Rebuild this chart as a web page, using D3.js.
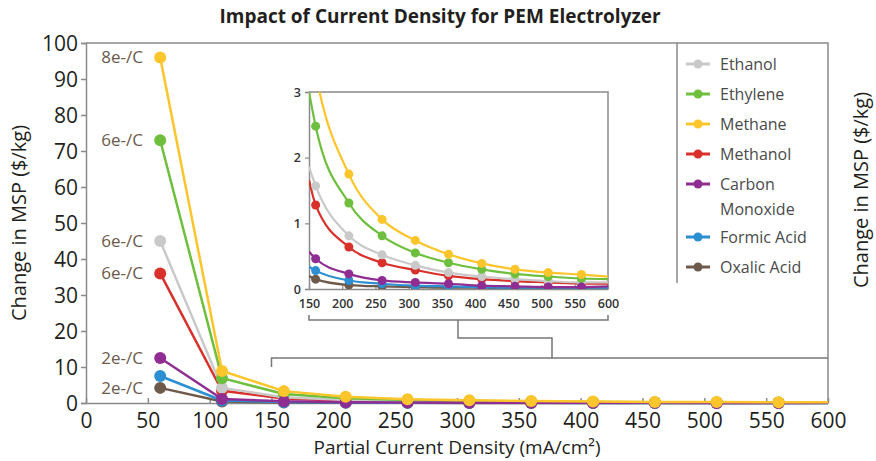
<!DOCTYPE html>
<html>
<head>
<meta charset="utf-8">
<script src="https://cdn.jsdelivr.net/npm/d3@7"></script>
<style>
  body { margin: 0; background: #fff; }
  svg { display: block; }
  text { font-family: "Open Sans", sans-serif; }
</style>
</head>
<body>
<svg id="chart"></svg>
<script>
const svgWidth = 876;
const svgHeight = 461;

// Partial current density (mA/cm2) where markers sit
const density = [60, 110, 160, 210, 260, 310, 360, 410, 460, 510, 560];

const seriesNames = ["Ethanol", "Ethylene", "Methane", "Methanol", "Carbon Monoxide", "Formic Acid", "Oxalic Acid"];
const legendLines = [["Ethanol"], ["Ethylene"], ["Methane"], ["Methanol"], ["Carbon", "Monoxide"], ["Formic Acid"], ["Oxalic Acid"]];
const colors = ["#c9c9c9", "#6fbf3f", "#fdc52c", "#d8302a", "#8f2d92", "#2c8fd2", "#6e5a4b"];
const electronLabels = ["6e-/C", "6e-/C", "8e-/C", "6e-/C", "2e-/C", "", "2e-/C"];

// Change in MSP ($/kg), one array per product
const ethanol  = [45, 4.2, 1.57, 0.81, 0.52, 0.36, 0.25, 0.19, 0.15, 0.12, 0.10];
const ethylene = [73, 6.9, 2.48, 1.31, 0.81, 0.55, 0.40, 0.30, 0.23, 0.19, 0.16];
const methane  = [96, 8.9, 3.3, 1.75, 1.06, 0.74, 0.53, 0.39, 0.30, 0.25, 0.22];
const methanol = [36, 3.4, 1.28, 0.64, 0.40, 0.29, 0.20, 0.15, 0.12, 0.10, 0.08];
const carbonMonoxide = [12.5, 1.1, 0.46, 0.23, 0.13, 0.10, 0.08, 0.05, 0.04, 0.03, 0.03];
const formicAcid = [7.5, 0.7, 0.28, 0.13, 0.08, 0.05, 0.04, 0.03, 0.02, 0.02, 0.02];
const oxalicAcid = [4.2, 0.4, 0.15, 0.06, 0.04, 0.03, 0.02, 0.02, 0.01, 0.01, 0.01];
const seriesValues = [ethanol, ethylene, methane, methanol, carbonMonoxide, formicAcid, oxalicAcid];

// curve ends (no marker) at 150 and 600 mA/cm2
const curveStartX = 150;
const curveEndX = 600;
const curveStart = [1.86, 3.0, 3.9, 1.66, 0.57, 0.34, 0.20];
const curveEnd   = [0.10, 0.15, 0.19, 0.08, 0.04, 0.02, 0.01];

// draw order, back to front
const drawOrder = [6, 5, 3, 0, 1, 4, 2];

const mainXTicks = [0, 50, 100, 150, 200, 250, 300, 350, 400, 450, 500, 550, 600];
const mainYTicks = [0, 10, 20, 30, 40, 50, 60, 70, 80, 90, 100];
const insetXTicks = [150, 200, 250, 300, 350, 400, 450, 500, 550, 600];
const insetYTicks = [0, 1, 2, 3];

const textColor = "#231f20";
const frameColor = "#8a8a8a";
const noteColor = "#6d5a4c";

const svg = d3.select("#chart")
    .attr("width", svgWidth)
    .attr("height", svgHeight);

// Main scales
const x = d3.scaleLinear().domain([0, 600]).range([86, 828]);
const y = d3.scaleLinear().domain([0, 100]).range([403, 43]);

// Inset scales
const ix = d3.scaleLinear().domain([150, 600]).range([309, 608]);
const iy = d3.scaleLinear().domain([0, 3]).range([289, 92]);

// Title
svg.append("text")
    .attr("x", 440)
    .attr("y", 23)
    .attr("text-anchor", "middle")
    .style("font-size", "19px")
    .style("font-weight", "bold")
    .attr("fill", textColor)
    .text("Impact of Current Density for PEM Electrolyzer");

// Frame (top and right)
svg.append("path")
    .attr("d", `M${x(0)},${y(100)}H${x(600)}V${y(0)}`)
    .attr("fill", "none")
    .attr("stroke", frameColor)
    .attr("stroke-width", 1.5);

// Main axes
const yAxisG = svg.append("g")
    .attr("transform", `translate(${x(0)},0)`)
    .call(d3.axisLeft(y).tickValues(mainYTicks).tickSize(5).tickPadding(3));

const xAxisG = svg.append("g")
    .attr("transform", `translate(0,${y(0)})`)
    .call(d3.axisBottom(x).tickValues(mainXTicks).tickSizeInner(-5).tickSizeOuter(0).tickPadding(10));

[yAxisG, xAxisG].forEach(g => {
    g.select(".domain").attr("stroke", frameColor).attr("stroke-width", 1.5);
    g.selectAll(".tick line").attr("stroke", frameColor).attr("stroke-width", 1.5);
    g.selectAll(".tick text")
        .attr("fill", textColor)
        .style("font-size", "21px")
        .style("font-family", "'Open Sans', sans-serif");
});
yAxisG.selectAll(".tick text").attr("dy", "0.34em");

// Axis titles
svg.append("text")
    .attr("transform", `translate(26,${(y(0) + y(100)) / 2}) rotate(-90)`)
    .attr("text-anchor", "middle")
    .style("font-size", "20px")
    .attr("fill", textColor)
    .text("Change in MSP ($/kg)");

svg.append("text")
    .attr("transform", `translate(868,${(y(0) + y(100)) / 2 - 33}) rotate(-90)`)
    .attr("text-anchor", "middle")
    .style("font-size", "20px")
    .attr("fill", textColor)
    .text("Change in MSP ($/kg)");

svg.append("text")
    .attr("x", 457)
    .attr("y", 454)
    .attr("text-anchor", "middle")
    .style("font-size", "19px")
    .attr("fill", textColor)
    .text("Partial Current Density (mA/cm²)");

// Main lines and markers
const mainLine = d3.line().x(d => x(d[0])).y(d => y(d[1]));

drawOrder.forEach(i => {
    const pts = density.map((d, k) => [d, seriesValues[i][k]]).concat([[curveEndX, curveEnd[i]]]);
    svg.append("path")
        .datum(pts)
        .attr("d", mainLine)
        .attr("fill", "none")
        .attr("stroke", colors[i])
        .attr("stroke-width", 2.5)
        .attr("stroke-linejoin", "round");
    svg.append("g")
        .selectAll("circle")
        .data(density.map((d, k) => [d, seriesValues[i][k]]))
        .join("circle")
        .attr("cx", d => x(d[0]))
        .attr("cy", d => y(d[1]))
        .attr("r", 6)
        .attr("fill", colors[i]);
});

// electron labels at the first point
seriesNames.forEach((name, i) => {
    if (!electronLabels[i]) return;
    svg.append("text")
        .attr("x", 143)
        .attr("y", y(seriesValues[i][0]))
        .attr("dy", "0.35em")
        .attr("text-anchor", "end")
        .style("font-size", "17px")
        .attr("fill", noteColor)
        .text(electronLabels[i]);
});

// Legend
const legend = svg.append("g");
legend.append("line")
    .attr("x1", 677).attr("x2", 677)
    .attr("y1", y(100)).attr("y2", 283)
    .attr("stroke", frameColor)
    .attr("stroke-width", 1.5);

let rowY = 64;
legendLines.forEach((lines, i) => {
    const row = legend.append("g").attr("transform", `translate(0,${rowY})`);
    row.append("line")
        .attr("x1", 686).attr("x2", 710)
        .attr("stroke", colors[i])
        .attr("stroke-width", 3);
    row.append("circle")
        .attr("cx", 698)
        .attr("r", 4.5)
        .attr("fill", colors[i]);
    lines.forEach((t, j) => {
        row.append("text")
            .attr("x", 720)
            .attr("y", j * 25)
            .attr("dy", "0.35em")
            .style("font-size", "16px")
            .attr("fill", "#4a4a4a")
            .text(t);
    });
    rowY += 30 + (lines.length - 1) * 23;
});

// Inset frame
svg.append("path")
    .attr("d", `M${ix(150)},${iy(3)}H${ix(600)}V${iy(0)}`)
    .attr("fill", "none")
    .attr("stroke", frameColor)
    .attr("stroke-width", 1.5);

const iyAxisG = svg.append("g")
    .attr("transform", `translate(${ix(150)},0)`)
    .call(d3.axisLeft(iy).tickValues(insetYTicks).tickFormat(d3.format("d")).tickSize(4).tickPadding(4));
const ixAxisG = svg.append("g")
    .attr("transform", `translate(0,${iy(0)})`)
    .call(d3.axisBottom(ix).tickValues(insetXTicks).tickSizeInner(-4).tickSizeOuter(0).tickPadding(10));

[iyAxisG, ixAxisG].forEach(g => {
    g.select(".domain").attr("stroke", frameColor).attr("stroke-width", 1.5);
    g.selectAll(".tick line").attr("stroke", frameColor).attr("stroke-width", 1.2);
    g.selectAll(".tick text")
        .attr("fill", "#333")
        .style("font-size", "12.5px")
        .style("font-weight", "600")
        .style("font-family", "'Open Sans', sans-serif");
});

svg.append("clipPath")
    .attr("id", "inset-clip")
    .append("rect")
    .attr("x", ix(150))
    .attr("y", iy(3))
    .attr("width", ix(600) - ix(150))
    .attr("height", iy(0) - iy(3));

const insetG = svg.append("g").attr("clip-path", "url(#inset-clip)");
const insetLine = d3.line()
    .x(d => ix(d[0]))
    .y(d => iy(d[1]))
    .curve(d3.curveMonotoneX);

drawOrder.forEach(i => {
    const marks = density.map((d, k) => [d, seriesValues[i][k]]).filter(d => d[0] >= 150);
    const pts = [[curveStartX, curveStart[i]]].concat(marks, [[curveEndX, curveEnd[i]]]);
    insetG.append("path")
        .datum(pts)
        .attr("d", insetLine)
        .attr("fill", "none")
        .attr("stroke", colors[i])
        .attr("stroke-width", 2.2);
    insetG.append("g")
        .selectAll("circle")
        .data(marks)
        .join("circle")
        .attr("cx", d => ix(d[0]))
        .attr("cy", d => iy(d[1]))
        .attr("r", 4.5)
        .attr("fill", colors[i]);
});

// Brackets linking the inset to the 150-600 range
const bracket = d3.path();
bracket.moveTo(ix(150), 315);
bracket.lineTo(ix(150), 320);
bracket.lineTo(ix(600), 320);
bracket.lineTo(ix(600), 315);
bracket.moveTo(458, 320);
bracket.lineTo(458, 338);
bracket.lineTo(552, 338);
bracket.lineTo(552, 358);
bracket.moveTo(x(150), 367);
bracket.lineTo(x(150), 358);
bracket.lineTo(x(600), 358);

svg.append("path")
    .attr("d", bracket.toString())
    .attr("fill", "none")
    .attr("stroke", "#777")
    .attr("stroke-width", 1.5);
</script>
</body>
</html>
